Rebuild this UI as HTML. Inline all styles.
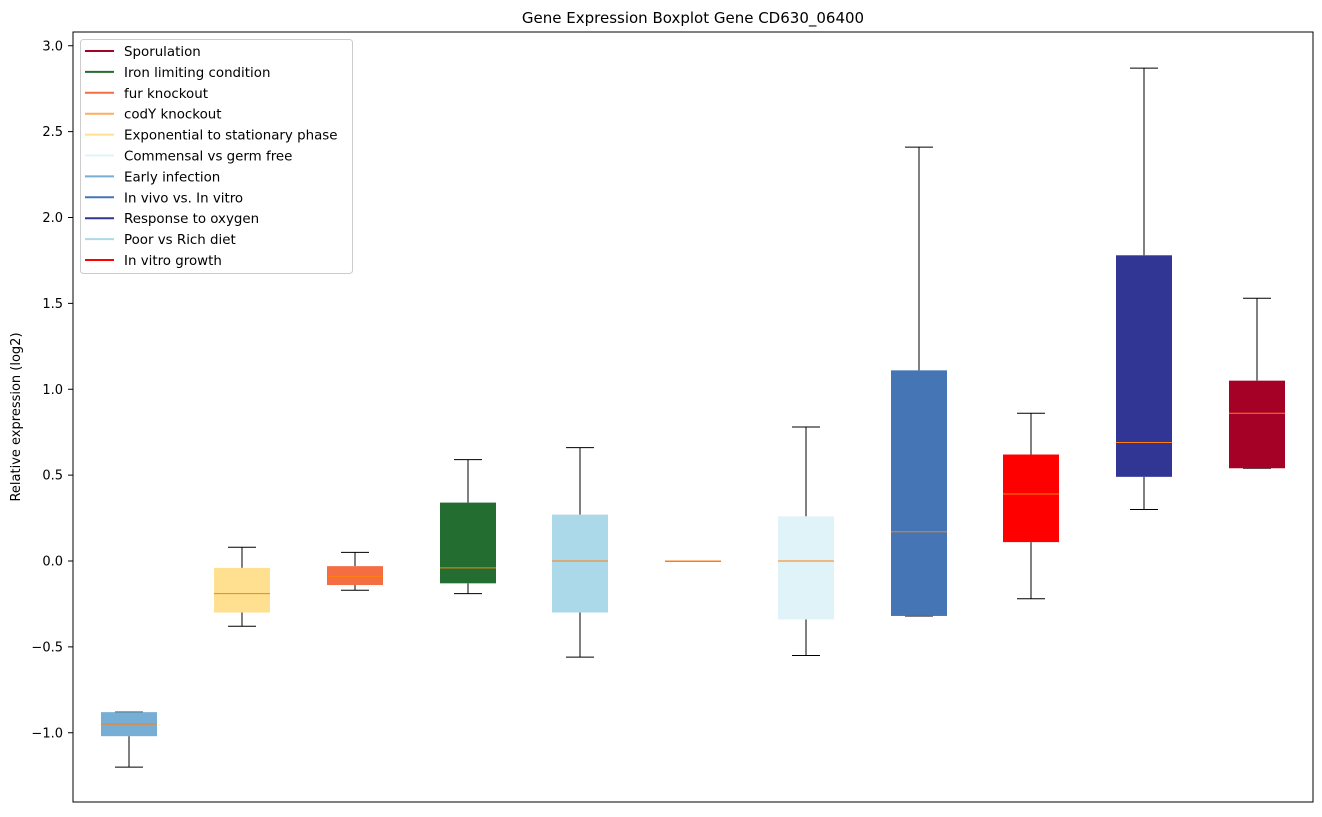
<!DOCTYPE html>
<html><head><meta charset="utf-8"><style>
body{margin:0;background:#fff;font-family:"Liberation Sans","DejaVu Sans",sans-serif}
svg text{font-family:"DejaVu Sans","Liberation Sans",sans-serif}
</style></head><body>
<svg id="s" width="1322" height="812" xmlns="http://www.w3.org/2000/svg">
<rect width="1322" height="812" fill="#fff"/>
<text x="693" y="23" font-size="15" text-anchor="middle">Gene Expression Boxplot Gene CD630_06400</text>
<text transform="translate(20,417) rotate(-90)" font-size="13" text-anchor="middle">Relative expression (log2)</text>
<g id="g"></g>
</svg>
<script>
const Y=v=>561-v*171.75;
let h='';
const boxes=[
[129,'#76aed5',-1.20,-1.02,-0.95,-0.88,-0.88],
[242,'#fee090',-0.38,-0.30,-0.19,-0.04,0.08],
[355,'#f46d43',-0.17,-0.14,-0.09,-0.03,0.05],
[468,'#226d2f',-0.19,-0.13,-0.04,0.34,0.59],
[580,'#abd9e9',-0.56,-0.30,0,0.27,0.66],
[693,'#b59070',0,0,0,0,0],
[806,'#e0f3f8',-0.55,-0.34,0,0.26,0.78],
[919,'#4575b4',-0.32,-0.32,0.17,1.11,2.41],
[1031,'#ff0000',-0.22,0.11,0.39,0.62,0.86],
[1144,'#313695',0.30,0.49,0.69,1.78,2.87],
[1257,'#a50026',0.54,0.54,0.86,1.05,1.53]];
for(const [c,col,lo,q1,m,q3,hi] of boxes){
 h+=`<line x1="${c}" x2="${c}" y1="${Y(hi)}" y2="${Y(q3)}" stroke="#000"/><line x1="${c}" x2="${c}" y1="${Y(q1)}" y2="${Y(lo)}" stroke="#000"/>`;
 h+=`<line x1="${c-14}" x2="${c+14}" y1="${Y(hi)}" y2="${Y(hi)}" stroke="#000"/><line x1="${c-14}" x2="${c+14}" y1="${Y(lo)}" y2="${Y(lo)}" stroke="#000"/>`;
 h+=`<rect x="${c-28}" y="${Y(q3)}" width="56" height="${Math.max(Y(q1)-Y(q3),1)}" fill="${col}"/>`;
 h+=`<line x1="${c-28}" x2="${c+28}" y1="${Y(m)}" y2="${Y(m)}" stroke="#ff7f0e" stroke-width="1"/>`;
}
h+=`<rect x="73" y="32" width="1240" height="770" fill="none" stroke="#000" stroke-width="1"/>`;
for(let v=-1;v<=3.001;v+=0.5){const y=Y(v);h+=`<line x1="68" x2="73" y1="${y}" y2="${y}" stroke="#000"/><text x="63" y="${y+4.5}" font-size="13" text-anchor="end">${(v<0?'\u2212':'')+Math.abs(v).toFixed(1)}</text>`;}
h+=`<rect x="80.5" y="39.5" width="272" height="234" rx="3" fill="#fff" fill-opacity="0.8" stroke="#ccc"/>`;
const L=[['Sporulation','#a50026'],['Iron limiting condition','#226d2f'],['fur knockout','#f46d43'],['codY knockout','#fdae61'],['Exponential to stationary phase','#fee090'],['Commensal vs germ free','#e0f3f8'],['Early infection','#76aed5'],['In vivo vs. In vitro','#4575b4'],['Response to oxygen','#313695'],['Poor vs Rich diet','#abd9e9'],['In vitro growth','#ff0000']];
L.forEach(([t,c],i)=>{const y=51+i*20.9;h+=`<line x1="85" x2="114" y1="${y}" y2="${y}" stroke="${c}" stroke-width="2"/><text x="124" y="${y+5}" font-size="13.4">${t}</text>`;});
document.getElementById('g').innerHTML=h;
</script>
</body></html>
